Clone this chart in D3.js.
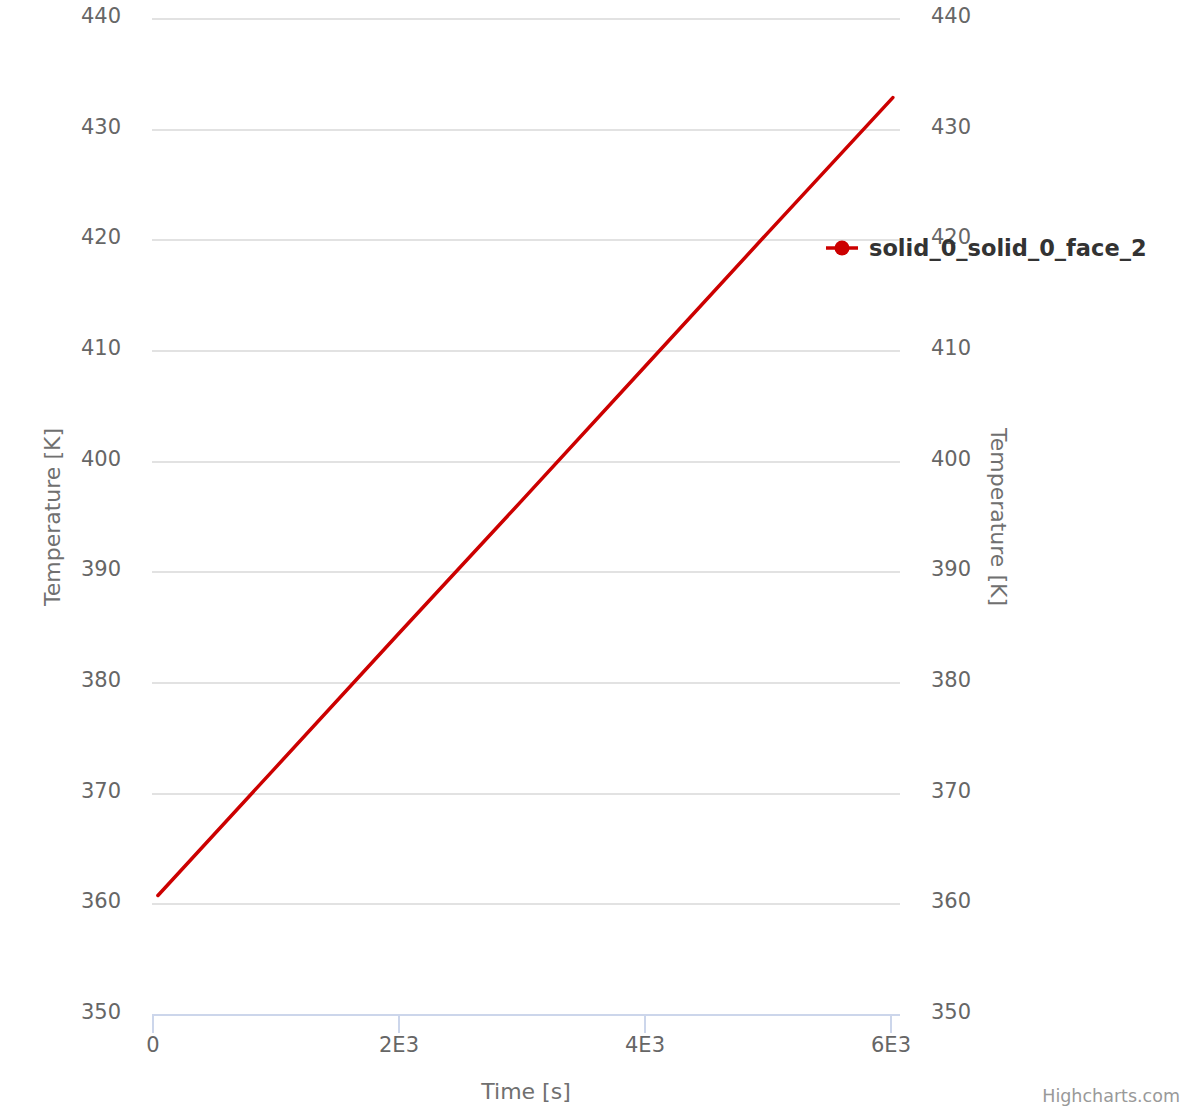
<!DOCTYPE html>
<html><head><meta charset="utf-8">
<script src="https://cdn.jsdelivr.net/npm/d3@7"></script>
<style>body{margin:0;background:#fff}svg{display:block;font-family:"DejaVu Sans",sans-serif}</style>
</head><body><svg id="c" width="1200" height="1114"></svg>
<script>
const seriesName = "solid_0_solid_0_face_2";
const timeValues = [40, 1000, 2000, 3000, 4000, 5000, 6015];
const tempValues = [360.8, 372.4, 384.5, 396.5, 408.6, 420.7, 432.9];
const yTicks = [350, 360, 370, 380, 390, 400, 410, 420, 430, 440];
const xTicks = [0, 2000, 4000, 6000];
const xTickLabels = ["0", "2E3", "4E3", "6E3"];
const xTitle = "Time [s]";
const yTitle = "Temperature [K]";
const credits = "Highcharts.com";

const svg = d3.select("#c");
const plotL = 152, plotR = 900, plotT = 19, plotB = 1015;
const x = d3.scaleLinear().domain([0, 6000]).range([153, 891]);
const y = d3.scaleLinear().domain([350, 440]).range([plotB, plotT]);

// grid
svg.append("g").selectAll("line").data(yTicks.filter(d => d !== 350)).join("line")
  .attr("x1", plotL).attr("x2", plotR)
  .attr("y1", d => Math.round(y(d))).attr("y2", d => Math.round(y(d)))
  .attr("stroke", "#d8d8d8").attr("stroke-width", 1.5);

// x axis
const xa = svg.append("g").attr("transform", `translate(0,${plotB})`);
xa.append("line").attr("x1", plotL).attr("x2", plotR).attr("y1", 0).attr("y2", 0)
  .attr("stroke", "#ccd6eb").attr("stroke-width", 2);
xa.selectAll("line.t").data(xTicks).join("line").attr("class", "t")
  .attr("x1", d => x(d)).attr("x2", d => x(d)).attr("y1", 0).attr("y2", 18)
  .attr("stroke", "#ccd6eb").attr("stroke-width", 2);
xa.selectAll("text").data(xTicks).join("text")
  .attr("x", d => x(d)).attr("y", 37).attr("text-anchor", "middle")
  .attr("fill", "#666").attr("font-size", 21).text((d, i) => xTickLabels[i]);

// y labels left & right
svg.append("g").selectAll("text").data(yTicks).join("text")
  .attr("x", 121).attr("y", d => y(d) + 4).attr("text-anchor", "end")
  .attr("fill", "#666").attr("font-size", 21).text(d => d);
svg.append("g").selectAll("text").data(yTicks).join("text")
  .attr("x", 931).attr("y", d => y(d) + 4).attr("text-anchor", "start")
  .attr("fill", "#666").attr("font-size", 21).text(d => d);

// axis titles
const midY = (plotT + plotB) / 2;
svg.append("text").attr("transform", `translate(52,${midY}) rotate(-90)`)
  .attr("text-anchor", "middle").attr("dominant-baseline", "central")
  .attr("fill", "#707070").attr("font-size", 22).text(yTitle);
svg.append("text").attr("transform", `translate(998,${midY}) rotate(90)`)
  .attr("text-anchor", "middle").attr("dominant-baseline", "central")
  .attr("fill", "#707070").attr("font-size", 22).text(yTitle);
svg.append("text").attr("x", (plotL + plotR) / 2).attr("y", 1099)
  .attr("text-anchor", "middle").attr("fill", "#707070").attr("font-size", 22).text(xTitle);

// series
const data = timeValues.map((t, i) => [t, tempValues[i]]);
svg.append("path").datum(data)
  .attr("d", d3.line().x(d => x(d[0])).y(d => y(d[1])))
  .attr("fill", "none").attr("stroke", "#cc0000").attr("stroke-width", 3.5)
  .attr("stroke-linecap", "round").attr("stroke-linejoin", "round");

// legend
const lg = svg.append("g").attr("transform", "translate(826,248)");
lg.append("line").attr("x1", 0).attr("x2", 32).attr("y1", 0).attr("y2", 0)
  .attr("stroke", "#cc0000").attr("stroke-width", 3.5);
lg.append("circle").attr("cx", 16).attr("cy", 0).attr("r", 7.5).attr("fill", "#cc0000");
lg.append("text").attr("x", 43).attr("y", 8).attr("font-weight", "bold")
  .attr("font-size", 22.5).attr("fill", "#333").text(seriesName);

// credits
svg.append("text").attr("x", 1180).attr("y", 1102).attr("text-anchor", "end")
  .attr("fill", "#999").attr("font-size", 17.5).text(credits);
</script></body></html>
